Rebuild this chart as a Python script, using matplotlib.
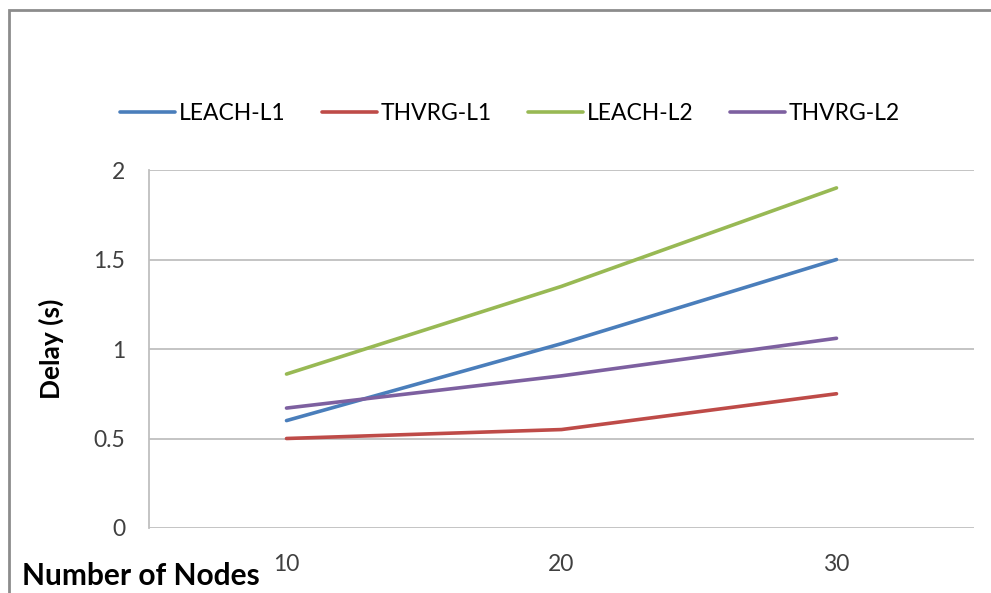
import matplotlib.pyplot as plt
from matplotlib.patches import Rectangle

plt.rcParams['font.family'] = ['Lato', 'DejaVu Sans']

# Delay per network size
nodes = [10, 20, 30]
leach_l1 = [0.60, 1.03, 1.50]
thvrg_l1 = [0.50, 0.55, 0.75]
leach_l2 = [0.86, 1.35, 1.90]
thvrg_l2 = [0.67, 0.85, 1.06]

series = [
    ('LEACH-L1', leach_l1, '#4a7ebb'),
    ('THVRG-L1', thvrg_l1, '#be4b48'),
    ('LEACH-L2', leach_l2, '#98b954'),
    ('THVRG-L2', thvrg_l2, '#7d60a0'),
]

fig = plt.figure(figsize=(9.91, 5.93), dpi=100)
ax = fig.add_axes([149 / 991, 1 - 528 / 593, 825 / 991, 358 / 593])

for name, vals, color in series:
    ax.plot(nodes, vals, color=color, linewidth=2.6, label=name,
            solid_capstyle='round')

ax.set_xlim(5, 35)
ax.set_ylim(0, 2)
ax.set_yticks([0, 0.5, 1, 1.5, 2])
ax.set_yticklabels(['0', '0.5', '1', '1.5', '2'])
ax.set_xticks(nodes)
ax.set_xticklabels([str(n) for n in nodes])
ax.tick_params(axis='both', length=0, labelsize=16.5, colors='#404040')
ax.tick_params(axis='y', pad=17)
ax.tick_params(axis='x', pad=19)

ax.grid(axis='y', color='#bfbfbf', linewidth=1.3)
ax.set_axisbelow(True)
for side in ['top', 'right', 'bottom']:
    ax.spines[side].set_visible(False)
ax.spines['left'].set_color('#bfbfbf')
ax.spines['left'].set_linewidth(1.3)

ax.set_ylabel('Delay (s)', fontsize=19, fontweight='bold')
ax.yaxis.set_label_coords(-0.103, 0.5)

fig.text(22 / 991, 1 - 576 / 593, 'Number of Nodes', fontsize=21.5,
         fontweight='bold', va='center', ha='left')

fig.legend(loc='center', bbox_to_anchor=(510 / 991, 1 - 114 / 593),
           ncol=4, frameon=False, fontsize=16.5, handlelength=2.4,
           handletextpad=0.15, columnspacing=1.6)

# outer chart border
fig.patches.append(Rectangle((8.5 / 991, -0.05), 1.1, 1.05 - 10 / 593,
                             transform=fig.transFigure, fill=False,
                             edgecolor='#8c8c8c', linewidth=2))

fig.savefig('out.png', dpi=100, facecolor='white')
